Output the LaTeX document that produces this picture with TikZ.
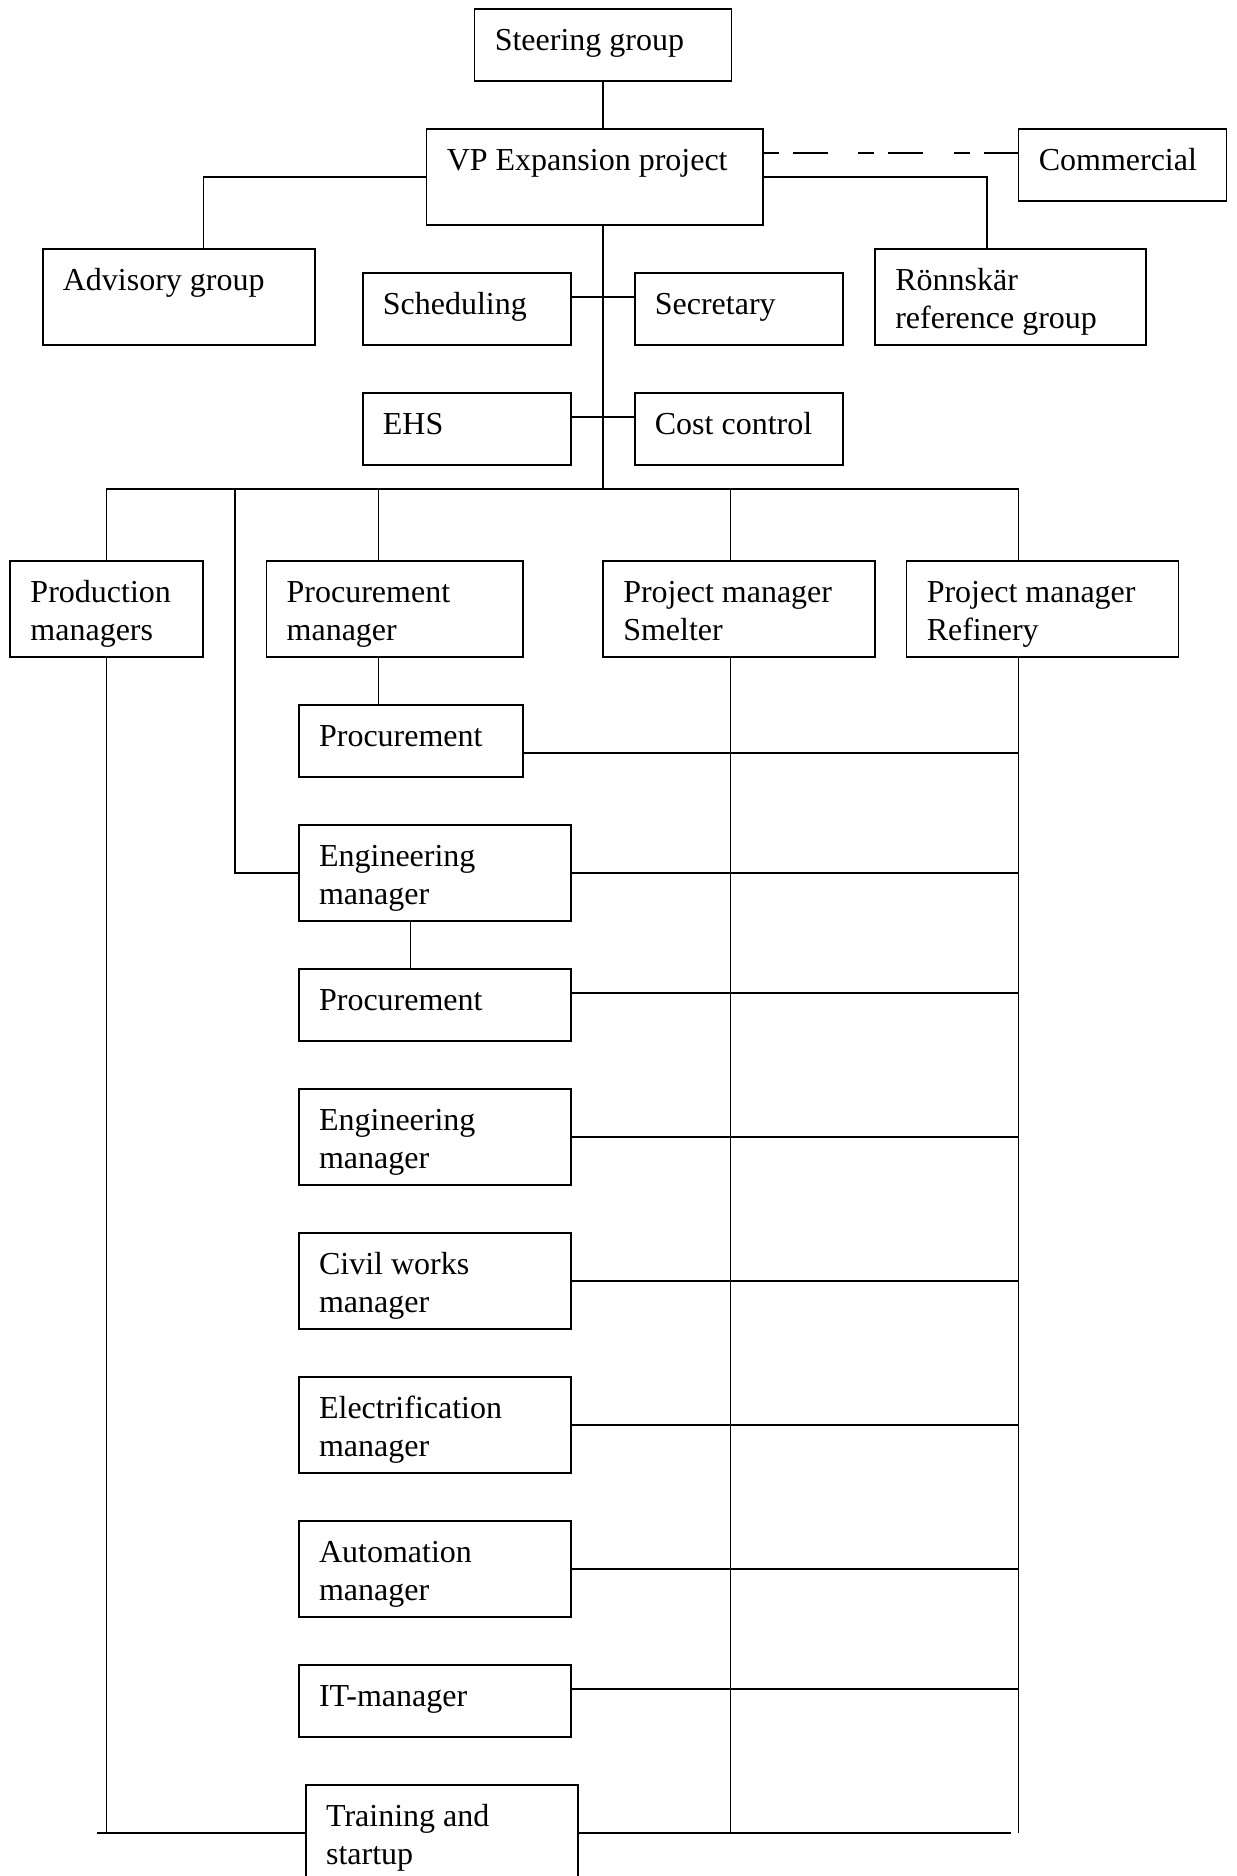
\documentclass[tikz,border=0pt]{standalone}
\usepackage{fontspec}
\setmainfont{Liberation Serif}
\tikzset{
  orgbox/.style={draw, line width=1.35pt, rectangle, inner sep=0pt, outer sep=0pt, anchor=north west},
  orgtext/.style={anchor=base west, inner sep=0pt, font=\fontsize{24}{28.5}\selectfont},
  link/.style={line width=1.15pt},
  dashlink/.style={line width=1.4pt, dash pattern=on 12pt off 10.5pt on 26pt off 23pt},
}
% box: name, left, top, width, height (all in px units), text
\newcommand{\orgunit}[6]{%
  \node[orgbox, minimum width=#4*0.75pt, minimum height=#5*0.75pt] (#1) at (#2,#3) {};
  \node[orgtext] (#1-t) at ([shift={(20,41.5)}]#1.north west) {\begin{tabular}[t]{@{}l@{}}#6\end{tabular}};
}
\begin{document}
\begin{tikzpicture}[x=0.75pt, y=-0.75pt]
\useasboundingbox (0,0) rectangle (1236,1876);
\fill[white] (0,0) rectangle (1236,1876);

% management level
\orgunit{steer}{474.5}{9}{257}{72}{Steering group}
\orgunit{vp}{426.5}{129}{336.5}{96}{VP Expansion project}
\orgunit{comm}{1018.5}{129}{208}{72}{Commercial}
\orgunit{adv}{42.6}{249}{272.7}{96}{Advisory group}
\orgunit{ronn}{875}{249}{271}{96}{Rönnskär\\reference group}
\orgunit{sched}{362.6}{273}{208}{72}{Scheduling}
\orgunit{secr}{634.6}{273}{208}{72}{Secretary}
\orgunit{ehs}{362.6}{393}{208}{72}{EHS}
\orgunit{cost}{634.6}{393}{208}{72}{Cost control}

% managers row
\orgunit{prod}{10.2}{561}{192.4}{96}{Production\\managers}
\orgunit{pmgr}{266.4}{561}{256.2}{96}{Procurement\\manager}
\orgunit{smelt}{603}{561}{272}{96}{Project manager\\Smelter}
\orgunit{refin}{906.5}{561}{272}{96}{Project manager\\Refinery}

% functional column
\orgunit{proc1}{298.8}{705}{223.8}{72}{Procurement}
\orgunit{eng1}{298.8}{825}{272}{96}{Engineering\\manager}
\orgunit{proc2}{298.8}{969}{272}{72}{Procurement}
\orgunit{eng2}{298.8}{1089}{272}{96}{Engineering\\manager}
\orgunit{civil}{298.8}{1233}{272}{96}{Civil works\\manager}
\orgunit{elec}{298.8}{1377}{272}{96}{Electrification\\manager}
\orgunit{auto}{298.8}{1521}{272}{96}{Automation\\manager}
\orgunit{it}{298.8}{1665}{272}{72}{IT-manager}
\orgunit{train}{305.8}{1785}{272}{96}{Training and\\startup}

% junction points
\coordinate (busL) at (106.4,489);
\coordinate (busR) at (1018.5,489);
\coordinate (busM) at (603,489);
\coordinate (dropE) at (235,489);
\coordinate (dropP) at (378.4,489);
\coordinate (dropS) at (730.7,489);
\coordinate (advB) at (203.4,177);
\coordinate (ronB) at (987,177);
\coordinate (engx) at (410.7,0);
\coordinate (baseL) at (97,1833);
\coordinate (baseR) at (1010.6,1833);
\coordinate (smEnd) at (730.7,1833);
\coordinate (refEnd) at (1018.5,1833);

% upper connectors
\draw[link] (steer.south) -- (steer.south |- vp.north);
\draw[link] (steer.south |- vp.south) -- (busM);
\draw[link] (vp.west) -- (advB) -- (advB |- adv.north);
\draw[link] (vp.east) -- (ronB) -- (ronB |- ronn.north);
\draw[dashlink] ([shift={(0,24)}]vp.north east) -- ([shift={(0,24)}]comm.north west);
\draw[link] ([shift={(0,24)}]sched.north east) -- ([shift={(0,24)}]secr.north west);
\draw[link] ([shift={(0,24)}]ehs.north east) -- ([shift={(0,24)}]cost.north west);

% bus and drops
\draw[link] (busL) -- (busR);
\draw[link] (busL) -- (prod.north);
\draw[link] (dropE) |- (eng1.west);
\draw[link] (dropP) -- (dropP |- pmgr.north);
\draw[link] (dropS) -- (dropS |- smelt.north);
\draw[link] (busR) -- (busR |- refin.north);

% long verticals
\draw[link] (prod.south) -- (prod.south |- baseL);
\draw[link] (dropS |- smelt.south) -- (smEnd);
\draw[link] (busR |- refin.south) -- (refEnd);
\draw[link] (dropP |- pmgr.south) -- (dropP |- proc1.north);
\draw[link] (eng1.south -| engx) -- (engx |- proc2.north);

% matrix links to the project managers
\draw[link] ([shift={(0,48)}]proc1.north east) coordinate (l1) -- (l1 -| busR);
\draw[link] (eng1.east) -- (eng1.east -| busR);
\draw[link] ([shift={(0,24)}]proc2.north east) coordinate (l3) -- (l3 -| busR);
\draw[link] (eng2.east) -- (eng2.east -| busR);
\draw[link] (civil.east) -- (civil.east -| busR);
\draw[link] (elec.east) -- (elec.east -| busR);
\draw[link] (auto.east) -- (auto.east -| busR);
\draw[link] ([shift={(0,24)}]it.north east) coordinate (l8) -- (l8 -| busR);
\draw[link] (baseL) -- (train.west);
\draw[link] (train.east) -- (baseR);
\end{tikzpicture}
\end{document}
